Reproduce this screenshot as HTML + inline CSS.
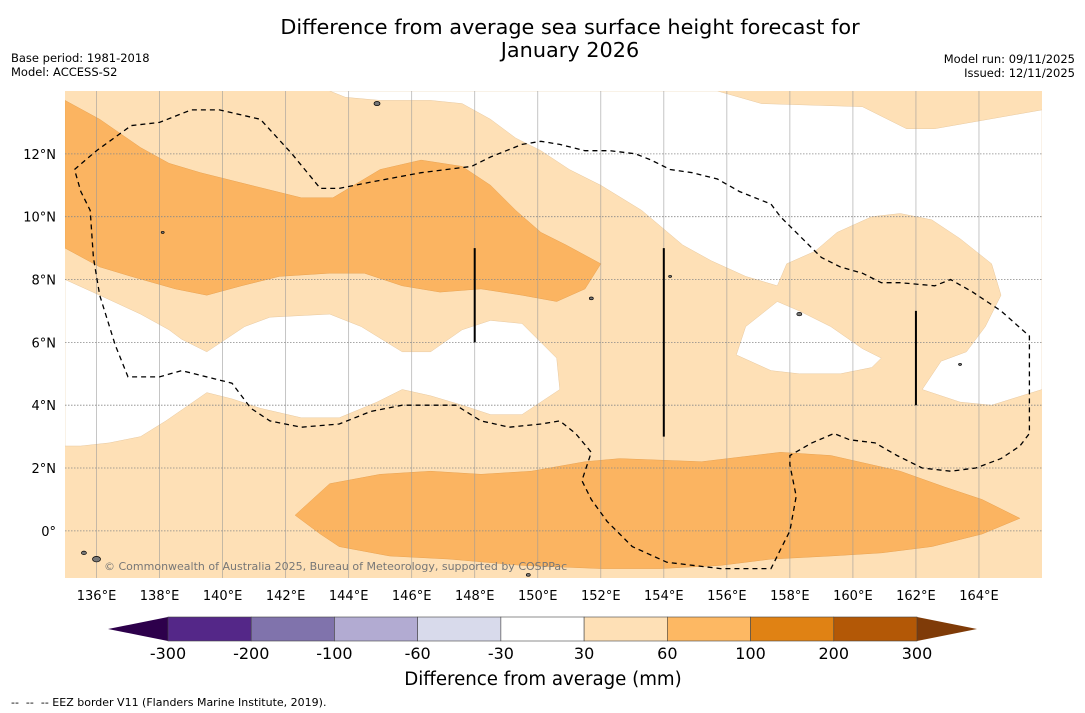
<!DOCTYPE html>
<html><head><meta charset="utf-8"><style>
body{margin:0;background:#fff;}
svg{display:block;font-family:"DejaVu Sans","Liberation Sans",sans-serif;}
</style></head><body>
<svg id="chart" width="1085" height="713" viewBox="0 0 1085 713" xmlns="http://www.w3.org/2000/svg">
<text x="570" y="34" font-size="20.8" text-anchor="middle">Difference from average sea surface height forecast for</text>
<text x="570" y="57" font-size="20.8" text-anchor="middle">January 2026</text>
<text x="11" y="62" font-size="11.5">Base period: 1981-2018</text>
<text x="11" y="76" font-size="11.5">Model: ACCESS-S2</text>
<text x="1075" y="63" font-size="11.5" text-anchor="end">Model run: 09/11/2025</text>
<text x="1075" y="77" font-size="11.5" text-anchor="end">Issued: 12/11/2025</text>
<defs><clipPath id="mapclip"><rect x="65" y="91" width="977" height="487"/></clipPath></defs>
<g id="map" clip-path="url(#mapclip)"></g>
<g id="axes"></g>
<g id="cbar"></g>
<text x="543" y="685" font-size="18.2" text-anchor="middle">Difference from average (mm)</text>
<text x="11" y="706" font-size="11" xml:space="preserve" style="white-space:pre">--  --  -- EEZ border V11 (Flanders Marine Institute, 2019).</text>
</svg>
<script>
const lonMin=135, lonMax=166, latMin=-1.5, latMax=14;
const lonTicks=[136,138,140,142,144,146,148,150,152,154,156,158,160,162,164];
const latTicks=[0,2,4,6,8,10,12];
const cbarBounds=[-300,-200,-100,-60,-30,30,60,100,200,300];
const cbarColors=["#542788","#8073ac","#b2abd2","#d8daeb","#ffffff","#fee0b6","#fdb863","#e08214","#b35806"];
const whiteTop=[[143.4,14.0],[155.7,14.0],[157.1,13.6],[160.3,13.5],[161.7,12.8],[162.6,12.8],[166.0,13.4],[166.0,4.5],[164.4,4.0],[163.4,4.1],[162.2,4.5],[162.8,5.4],[163.6,5.7],[164.2,6.5],[164.7,7.5],[164.4,8.5],[163.4,9.3],[162.5,9.9],[161.5,10.1],[160.6,10.0],[159.5,9.5],[158.8,8.9],[157.9,8.5],[157.6,7.8],[156.6,8.1],[155.5,8.6],[154.6,9.1],[153.3,10.2],[152.0,11.0],[151.0,11.5],[150.1,12.1],[149.3,12.5],[148.5,13.1],[147.6,13.6],[146.6,13.7],[145.0,13.7],[143.9,13.8]];
const whiteMid=[[135.0,8.0],[136.1,7.5],[137.4,6.9],[138.3,6.4],[138.7,6.1],[139.5,5.7],[140.7,6.5],[141.5,6.8],[143.4,6.9],[144.4,6.5],[145.7,5.7],[146.6,5.7],[147.6,6.4],[148.5,6.7],[149.5,6.6],[150.6,5.5],[150.7,4.5],[149.5,3.7],[148.5,3.7],[147.6,4.0],[146.6,4.3],[145.7,4.5],[144.9,4.1],[143.7,3.6],[142.5,3.6],[141.2,3.9],[140.3,4.2],[139.5,4.4],[138.2,3.5],[137.4,3.0],[136.4,2.8],[135.5,2.7],[135.0,2.7]];
const whiteRight=[[157.6,7.3],[156.6,6.5],[156.3,5.6],[157.4,5.1],[158.3,5.0],[159.6,5.0],[160.6,5.2],[160.9,5.5],[160.3,5.8],[159.3,6.5],[158.3,7.0]];
const orangeTop=[[135.0,13.7],[136.1,13.1],[137.4,12.2],[138.3,11.7],[139.3,11.4],[140.9,11.0],[142.5,10.6],[143.5,10.6],[145.0,11.5],[146.3,11.8],[147.6,11.6],[148.5,11.0],[149.3,10.2],[150.1,9.5],[150.9,9.1],[152.0,8.5],[151.5,7.7],[150.6,7.3],[149.5,7.5],[148.2,7.7],[146.9,7.6],[145.7,7.8],[144.5,8.2],[143.4,8.2],[141.8,8.1],[140.6,7.8],[139.5,7.5],[138.5,7.7],[137.1,8.1],[136.1,8.4],[135.0,9.0]];
const orangeBottom=[[142.3,0.5],[143.4,1.5],[145.0,1.8],[146.6,1.9],[148.2,1.8],[149.8,1.9],[151.5,2.2],[152.6,2.3],[155.2,2.2],[157.7,2.5],[159.3,2.4],[161.5,1.9],[162.9,1.4],[164.1,1.0],[165.3,0.4],[164.1,-0.1],[162.5,-0.5],[160.9,-0.7],[159.3,-0.8],[157.4,-0.9],[155.8,-1.1],[153.9,-1.2],[152.0,-1.2],[149.5,-1.1],[147.2,-0.9],[145.3,-0.8],[143.7,-0.5],[143.1,-0.1]];
const eez=[[135.3,11.5],[136.0,12.1],[137.1,12.9],[138.0,13.0],[139.0,13.4],[139.9,13.4],[141.2,13.1],[142.2,12.0],[143.1,10.9],[143.7,10.9],[144.7,11.1],[146.3,11.4],[147.9,11.6],[148.5,11.9],[149.5,12.3],[150.1,12.4],[150.7,12.3],[151.5,12.1],[152.3,12.1],[153.1,12.0],[153.6,11.8],[154.2,11.5],[154.9,11.4],[155.7,11.2],[156.4,10.8],[157.4,10.4],[157.7,10.0],[158.3,9.4],[159.0,8.7],[159.6,8.4],[160.3,8.2],[160.9,7.9],[161.5,7.9],[162.6,7.8],[163.1,8.0],[163.8,7.6],[164.7,7.0],[165.6,6.2],[165.6,3.1],[165.3,2.7],[164.7,2.3],[163.9,2.0],[163.1,1.9],[162.2,2.0],[161.4,2.4],[160.7,2.8],[159.9,2.9],[159.4,3.1],[158.7,2.8],[158.0,2.4],[158.0,2.1],[158.2,1.1],[158.0,0.0],[157.7,-0.6],[157.4,-1.2],[155.8,-1.2],[154.1,-1.0],[153.0,-0.5],[152.2,0.3],[151.7,1.0],[151.4,1.6],[151.7,2.5],[151.2,3.1],[150.7,3.5],[150.1,3.4],[149.1,3.3],[148.2,3.5],[147.4,4.0],[146.6,4.0],[145.7,4.0],[144.7,3.8],[143.7,3.4],[142.5,3.3],[141.5,3.5],[140.9,3.9],[140.3,4.7],[138.7,5.1],[138.0,4.9],[137.0,4.9],[136.6,5.9],[136.1,7.5],[135.9,8.7],[135.8,10.2],[135.5,10.8],[135.3,11.5]];
const islands=[[144.9,13.6,3],[136.0,-0.9,4],[135.6,-0.7,2.5],[158.3,6.9,2.5],[151.7,7.4,2],[154.2,8.1,1.5],[163.4,5.3,1.5],[149.7,-1.4,2],[138.1,9.5,1.5]];
const verticalLines=[[148,9,6],[154,9,3],[162,7,4]];

const NS="http://www.w3.org/2000/svg";
const X0=65,X1=1042,Y0=91,Y1=578;
function xs(lon){return X0+(lon-lonMin)/(lonMax-lonMin)*(X1-X0);}
function ys(lat){return Y1-(lat-latMin)/(latMax-latMin)*(Y1-Y0);}
function mk(tag,attrs,parent){const e=document.createElementNS(NS,tag);for(const k in attrs)e.setAttribute(k,attrs[k]);parent.appendChild(e);return e;}
function pts(a){return a.map(p=>xs(p[0]).toFixed(1)+","+ys(p[1]).toFixed(1)).join(" ");}
const map=document.getElementById("map"),axes=document.getElementById("axes"),cb=document.getElementById("cbar");
let e=mk("rect",{x:X0,y:Y0,width:X1-X0,height:Y1-Y0,fill:"#fee0b6"},map);


[[whiteTop,'white-region-north'],[whiteMid,'white-region-west'],[whiteRight,'white-region-east']].forEach(([a,n])=>{
 const p=mk("polygon",{points:pts(a),fill:"#ffffff",stroke:"#e8c9a0","stroke-width":0.5},map);
 
 
});
[[orangeTop,'band-60-100-north'],[orangeBottom,'band-60-100-equator']].forEach(([a,n])=>{
 const p=mk("polygon",{points:pts(a),fill:"#fbb461",stroke:"#e9a352","stroke-width":0.5},map);
 
 
});
lonTicks.forEach(l=>{const g=mk("line",{x1:xs(l),x2:xs(l),y1:Y0,y2:Y1,stroke:"#999","stroke-width":0.8,"stroke-opacity":0.7},map);
 
 });
latTicks.forEach(l=>{const g=mk("line",{x1:X0,x2:X1,y1:ys(l),y2:ys(l),stroke:"#888","stroke-width":0.8,"stroke-dasharray":"1.5,1.5"},map);
 
 });
islands.forEach(p=>{const c=mk("ellipse",{cx:xs(p[0]),cy:ys(p[1]),rx:p[2],ry:p[2]*0.7,fill:"#777",stroke:"#000","stroke-width":0.7},map);
 
 });
e=mk("polyline",{points:pts(eez),fill:"none",stroke:"#000","stroke-width":1.3,"stroke-dasharray":"5,4"},map);


verticalLines.forEach(v=>{const l=mk("line",{x1:xs(v[0]),x2:xs(v[0]),y1:ys(v[1]),y2:ys(v[2]),stroke:"#000","stroke-width":2},map);
 
 });
e=mk("text",{x:104,y:570,"font-size":11,fill:"#777"},map);
e.textContent="© Commonwealth of Australia 2025, Bureau of Meteorology, supported by COSPPac";


lonTicks.forEach(l=>{const t=mk("text",{x:xs(l),y:600,"font-size":13,"text-anchor":"middle"},axes);t.textContent=l+"°E";
 
 });
latTicks.forEach(l=>{const t=mk("text",{x:56,y:ys(l)+5,"font-size":13,"text-anchor":"end"},axes);t.textContent=l===0?"0°":l+"°N";
 
 });
const CB0=168,CB1=917,CBY=617,CBH=24;
function cx(i){return CB0+i*(CB1-CB0)/(cbarBounds.length-1);}
e=mk("polygon",{points:`${CB0},${CBY} 108,${CBY+CBH/2} ${CB0},${CBY+CBH}`,fill:"#2d004b"},cb);


e=mk("polygon",{points:`${CB1},${CBY} 977,${CBY+CBH/2} ${CB1},${CBY+CBH}`,fill:"#7f3b08"},cb);


cbarColors.forEach((c,i)=>{const r=mk("rect",{x:cx(i),y:CBY,width:cx(i+1)-cx(i),height:CBH,fill:c,stroke:"#444","stroke-width":0.6},cb);
 
 });
cbarBounds.forEach((b,i)=>{const t=mk("text",{x:cx(i),y:659,"font-size":16,"text-anchor":"middle"},cb);t.textContent=b;
 
 });
</script>
</body></html>
